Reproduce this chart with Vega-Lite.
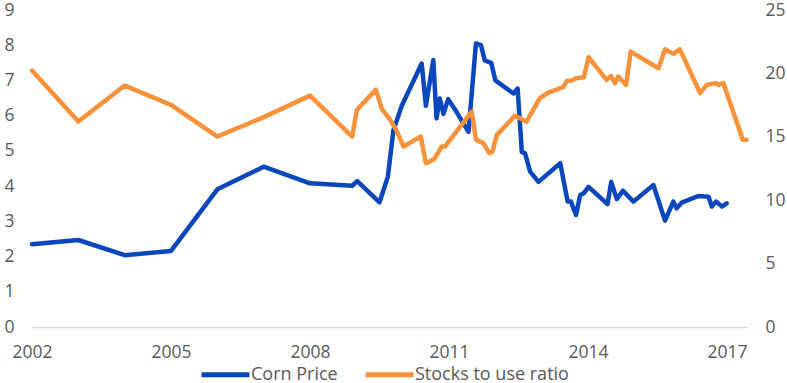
{
  "$schema": "https://vega.github.io/schema/vega-lite/v6.json",
  "autosize": "none",
  "width": 715,
  "height": 317,
  "padding": {"left": 32, "top": 10, "right": 40, "bottom": 56},
  "background": "white",
  "config": {
    "view": {"stroke": null},
    "font": "Open Sans",
    "axis": {"labelFont": "Open Sans", "labelFontSize": 17.5, "labelColor": "#595959", "ticks": false, "grid": false, "domain": false, "title": null},
    "legend": {"labelFont": "Open Sans", "labelFontSize": 18, "labelColor": "#595959"}
  },
  "data": {"values": [
    {"series": "Corn Price", "t": 2002.0, "v": 2.35},
    {"series": "Corn Price", "t": 2003.0, "v": 2.47},
    {"series": "Corn Price", "t": 2004.0, "v": 2.04},
    {"series": "Corn Price", "t": 2005.0, "v": 2.16},
    {"series": "Corn Price", "t": 2006.0, "v": 3.91},
    {"series": "Corn Price", "t": 2007.0, "v": 4.55},
    {"series": "Corn Price", "t": 2008.0, "v": 4.08},
    {"series": "Corn Price", "t": 2008.91, "v": 4.01},
    {"series": "Corn Price", "t": 2009.02, "v": 4.14},
    {"series": "Corn Price", "t": 2009.5, "v": 3.54},
    {"series": "Corn Price", "t": 2009.68, "v": 4.27},
    {"series": "Corn Price", "t": 2009.8, "v": 5.59},
    {"series": "Corn Price", "t": 2009.98, "v": 6.28},
    {"series": "Corn Price", "t": 2010.41, "v": 7.48},
    {"series": "Corn Price", "t": 2010.5, "v": 6.28},
    {"series": "Corn Price", "t": 2010.66, "v": 7.58},
    {"series": "Corn Price", "t": 2010.73, "v": 5.92},
    {"series": "Corn Price", "t": 2010.8, "v": 6.49},
    {"series": "Corn Price", "t": 2010.88, "v": 6.05},
    {"series": "Corn Price", "t": 2010.98, "v": 6.47},
    {"series": "Corn Price", "t": 2011.16, "v": 6.11},
    {"series": "Corn Price", "t": 2011.42, "v": 5.54},
    {"series": "Corn Price", "t": 2011.58, "v": 8.05},
    {"series": "Corn Price", "t": 2011.69, "v": 8.0},
    {"series": "Corn Price", "t": 2011.77, "v": 7.57},
    {"series": "Corn Price", "t": 2011.91, "v": 7.5},
    {"series": "Corn Price", "t": 2012.0, "v": 7.0},
    {"series": "Corn Price", "t": 2012.39, "v": 6.63},
    {"series": "Corn Price", "t": 2012.48, "v": 6.77},
    {"series": "Corn Price", "t": 2012.57, "v": 4.97},
    {"series": "Corn Price", "t": 2012.64, "v": 4.93},
    {"series": "Corn Price", "t": 2012.75, "v": 4.41},
    {"series": "Corn Price", "t": 2012.93, "v": 4.12},
    {"series": "Corn Price", "t": 2013.4, "v": 4.65},
    {"series": "Corn Price", "t": 2013.56, "v": 3.56},
    {"series": "Corn Price", "t": 2013.63, "v": 3.56},
    {"series": "Corn Price", "t": 2013.74, "v": 3.18},
    {"series": "Corn Price", "t": 2013.83, "v": 3.75},
    {"series": "Corn Price", "t": 2013.91, "v": 3.8},
    {"series": "Corn Price", "t": 2014.01, "v": 3.98},
    {"series": "Corn Price", "t": 2014.42, "v": 3.49},
    {"series": "Corn Price", "t": 2014.5, "v": 4.12},
    {"series": "Corn Price", "t": 2014.62, "v": 3.63},
    {"series": "Corn Price", "t": 2014.75, "v": 3.87},
    {"series": "Corn Price", "t": 2014.98, "v": 3.56},
    {"series": "Corn Price", "t": 2015.41, "v": 4.03},
    {"series": "Corn Price", "t": 2015.66, "v": 3.02},
    {"series": "Corn Price", "t": 2015.84, "v": 3.56},
    {"series": "Corn Price", "t": 2015.91, "v": 3.37},
    {"series": "Corn Price", "t": 2016.02, "v": 3.53},
    {"series": "Corn Price", "t": 2016.38, "v": 3.72},
    {"series": "Corn Price", "t": 2016.6, "v": 3.7},
    {"series": "Corn Price", "t": 2016.67, "v": 3.42},
    {"series": "Corn Price", "t": 2016.76, "v": 3.56},
    {"series": "Corn Price", "t": 2016.89, "v": 3.42},
    {"series": "Corn Price", "t": 2016.99, "v": 3.51},
    {"series": "Stocks to use ratio", "t": 2002.0, "v": 20.22},
    {"series": "Stocks to use ratio", "t": 2003.0, "v": 16.2},
    {"series": "Stocks to use ratio", "t": 2004.0, "v": 19.04},
    {"series": "Stocks to use ratio", "t": 2005.0, "v": 17.52},
    {"series": "Stocks to use ratio", "t": 2006.0, "v": 15.02},
    {"series": "Stocks to use ratio", "t": 2007.0, "v": 16.55},
    {"series": "Stocks to use ratio", "t": 2008.0, "v": 18.25},
    {"series": "Stocks to use ratio", "t": 2008.91, "v": 15.02},
    {"series": "Stocks to use ratio", "t": 2009.01, "v": 17.12},
    {"series": "Stocks to use ratio", "t": 2009.42, "v": 18.72},
    {"series": "Stocks to use ratio", "t": 2009.55, "v": 17.2},
    {"series": "Stocks to use ratio", "t": 2009.72, "v": 16.39},
    {"series": "Stocks to use ratio", "t": 2009.86, "v": 15.55},
    {"series": "Stocks to use ratio", "t": 2010.02, "v": 14.23},
    {"series": "Stocks to use ratio", "t": 2010.39, "v": 15.02},
    {"series": "Stocks to use ratio", "t": 2010.5, "v": 12.92},
    {"series": "Stocks to use ratio", "t": 2010.68, "v": 13.24},
    {"series": "Stocks to use ratio", "t": 2010.84, "v": 14.23},
    {"series": "Stocks to use ratio", "t": 2010.91, "v": 14.23},
    {"series": "Stocks to use ratio", "t": 2011.49, "v": 16.99},
    {"series": "Stocks to use ratio", "t": 2011.58, "v": 14.76},
    {"series": "Stocks to use ratio", "t": 2011.74, "v": 14.5},
    {"series": "Stocks to use ratio", "t": 2011.87, "v": 13.71},
    {"series": "Stocks to use ratio", "t": 2011.94, "v": 13.84},
    {"series": "Stocks to use ratio", "t": 2012.03, "v": 15.15},
    {"series": "Stocks to use ratio", "t": 2012.42, "v": 16.65},
    {"series": "Stocks to use ratio", "t": 2012.67, "v": 16.2},
    {"series": "Stocks to use ratio", "t": 2012.96, "v": 18.05},
    {"series": "Stocks to use ratio", "t": 2013.14, "v": 18.49},
    {"series": "Stocks to use ratio", "t": 2013.46, "v": 18.91},
    {"series": "Stocks to use ratio", "t": 2013.55, "v": 19.43},
    {"series": "Stocks to use ratio", "t": 2013.64, "v": 19.43},
    {"series": "Stocks to use ratio", "t": 2013.74, "v": 19.62},
    {"series": "Stocks to use ratio", "t": 2013.91, "v": 19.7},
    {"series": "Stocks to use ratio", "t": 2014.01, "v": 21.28},
    {"series": "Stocks to use ratio", "t": 2014.4, "v": 19.49},
    {"series": "Stocks to use ratio", "t": 2014.49, "v": 19.8},
    {"series": "Stocks to use ratio", "t": 2014.58, "v": 19.23},
    {"series": "Stocks to use ratio", "t": 2014.65, "v": 19.75},
    {"series": "Stocks to use ratio", "t": 2014.82, "v": 19.09},
    {"series": "Stocks to use ratio", "t": 2014.92, "v": 21.72},
    {"series": "Stocks to use ratio", "t": 2015.52, "v": 20.41},
    {"series": "Stocks to use ratio", "t": 2015.66, "v": 21.9},
    {"series": "Stocks to use ratio", "t": 2015.84, "v": 21.54},
    {"series": "Stocks to use ratio", "t": 2015.98, "v": 21.9},
    {"series": "Stocks to use ratio", "t": 2016.42, "v": 18.44},
    {"series": "Stocks to use ratio", "t": 2016.56, "v": 19.09},
    {"series": "Stocks to use ratio", "t": 2016.76, "v": 19.23},
    {"series": "Stocks to use ratio", "t": 2016.81, "v": 19.09},
    {"series": "Stocks to use ratio", "t": 2016.92, "v": 19.23},
    {"series": "Stocks to use ratio", "t": 2017.34, "v": 14.76},
    {"series": "Stocks to use ratio", "t": 2017.42, "v": 14.76}
  ]},
  "encoding": {
    "x": {
      "field": "t", "type": "quantitative",
      "scale": {"domain": [2002, 2017.43], "nice": false, "zero": false},
      "axis": {"values": [2002, 2005, 2008, 2011, 2014, 2017], "format": "d", "domain": true, "domainColor": "#d9d9d9", "domainWidth": 1.3, "labelPadding": 16, "labelFlush": false}
    },
    "color": {
      "field": "series", "type": "nominal",
      "scale": {"domain": ["Corn Price", "Stocks to use ratio"], "range": ["#0a46bc", "#f7923a"]},
      "legend": {
        "title": null, "orient": "none", "direction": "horizontal",
        "legendX": 167, "legendY": 338,
        "symbolType": "stroke", "symbolSize": 2304, "symbolStrokeWidth": 5,
        "labelOffset": -1, "columnPadding": 17
      }
    }
  },
  "layer": [
    {
      "transform": [{"filter": "datum.series === 'Corn Price'"}],
      "mark": {"type": "line", "strokeWidth": 4.5, "strokeJoin": "round", "strokeCap": "round"},
      "encoding": {
        "y": {"field": "v", "type": "quantitative", "scale": {"domain": [0, 9], "nice": false},
          "axis": {"orient": "left", "values": [0,1,2,3,4,5,6,7,8,9], "labelPadding": 18}}
      }
    },
    {
      "transform": [{"filter": "datum.series === 'Stocks to use ratio'"}],
      "mark": {"type": "line", "strokeWidth": 4.5, "strokeJoin": "round", "strokeCap": "round"},
      "encoding": {
        "y": {"field": "v", "type": "quantitative", "scale": {"domain": [0, 25], "nice": false},
          "axis": {"orient": "right", "values": [0,5,10,15,20,25], "labelPadding": 18}}
      }
    }
  ],
  "resolve": {"scale": {"y": "independent"}, "axis": {"y": "independent"}}
}
